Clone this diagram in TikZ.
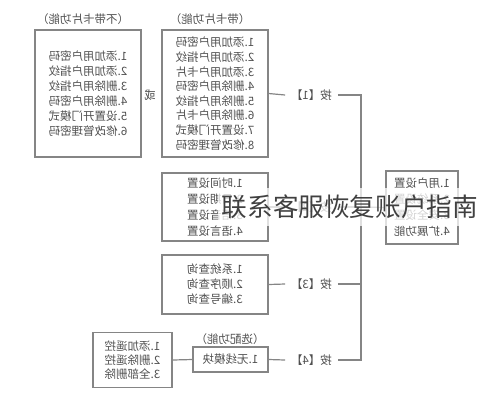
\documentclass[tikz,border=0pt]{standalone}
\usepackage{fontspec}
\setmainfont{Noto Sans CJK SC}
\definecolor{linegray}{HTML}{858585}
\definecolor{textgray}{HTML}{4F4F4F}

\begin{document}
\begin{tikzpicture}[x=1pt, y=-1pt,
    funcbox/.style={draw=linegray, line width=1.2pt, text=textgray, align=left, inner sep=0pt,
        font=\fontsize{11.5}{15}\selectfont},
    boxtitle/.style={text=textgray, inner sep=0pt, font=\fontsize{11.5}{14}\selectfont},
    keylabel/.style={text=textgray, inner xsep=6pt, inner ysep=2pt, outer sep=0pt,
        font=\fontsize{11.5}{14}\selectfont},
    conn/.style={draw=linegray, line width=1.2pt}]
    \useasboundingbox (0,0) rectangle (478,400);

    % whole chart is printed mirrored
    \begin{scope}[xshift=478pt, xscale=-1, transform shape]
        % Nodes
        \node[funcbox, minimum width=72pt, minimum height=73pt,
            font=\fontsize{11.5}{16}\selectfont] (main) at (56,207.5)
            {1.用户设置\\2.系统设置\\3.安全设置\\4.扩展功能};

        \node[keylabel] (key1) at (166.5,95) {按【1】};
        \node[keylabel] (key2) at (166.5,207) {按【2】};
        \node[keylabel] (key3) at (166.5,284) {按【3】};
        \node[keylabel] (key4) at (166.5,360) {按【4】};

        \node[funcbox, minimum width=106pt, minimum height=127pt,
            font=\fontsize{11.5}{14.6}\selectfont] (card) at (263,93.5)
            {1.添加用户密码\\2.添加用户指纹\\3.添加用户卡片\\4.删除用户密码\\5.删除用户指纹\\6.删除用户卡片\\7.设置开门模式\\8.修改管理密码};
        \node[boxtitle] (cardt) at (268,19) {（带卡片功能）};
        \node[boxtitle] (or) at (328,95) {或};
        \node[funcbox, minimum width=106pt, minimum height=127pt] (nocard) at (390,93.5)
            {1.添加用户密码\\2.添加用户指纹\\3.删除用户指纹\\4.删除用户密码\\5.设置开门模式\\6.修改管理密码};
        \node[boxtitle] (nocardt) at (395,19) {（不带卡片功能）};

        \node[funcbox, minimum width=106pt, minimum height=68pt,
            font=\fontsize{11.5}{16}\selectfont] (setup) at (263,207)
            {1.时间设置\\2.日期设置\\3.语音设置\\4.语言设置};
        \node[funcbox, minimum width=106pt, minimum height=59pt] (query) at (263,284.5)
            {1.系统查询\\2.顺序查询\\3.编号查询};

        \node[funcbox, minimum width=75pt, minimum height=25pt] (radio) at (247.5,359.5) {1.无线模块};
        \node[boxtitle] (radiot) at (248,339) {（选配功能）};
        \node[funcbox, minimum width=79pt, minimum height=55pt,
            font=\fontsize{11.5}{14}\selectfont] (remote) at (345.5,360)
            {1.添加遥控\\2.删除遥控\\3.全部删除};

        \coordinate (j1) at (117,95);
        \coordinate (j2) at (117,207);
        \coordinate (j3) at (117,284);
        \coordinate (j4) at (117,360);

        % Edges
        \draw[conn] (key1.west) -- (j1) -- (j4) -- (key4.west);
        \draw[conn] (key2.west) -- (j2);
        \draw[conn] (key3.west) -- (j3);
        \draw[conn] (main.east) -- (j2);
        \draw[conn] (key1.east) -- (card.west);
        \draw[conn] (key2.east) -- (setup.west);
        \draw[conn] (key3.east) -- (query.west);
        \draw[conn] (key4.east) -- (radio.west);
        \draw[conn] (radio.east) -- (remote.west);
    \end{scope}

    % overlaid caption
    \node[anchor=east, fill=white, fill opacity=0.75, text opacity=1, text=black!75,
        inner xsep=4pt, inner ysep=7pt, font=\fontsize{25.6}{28}\selectfont] (mark) at (482,207)
        {联系客服恢复账户指南};
\end{tikzpicture}
\end{document}
